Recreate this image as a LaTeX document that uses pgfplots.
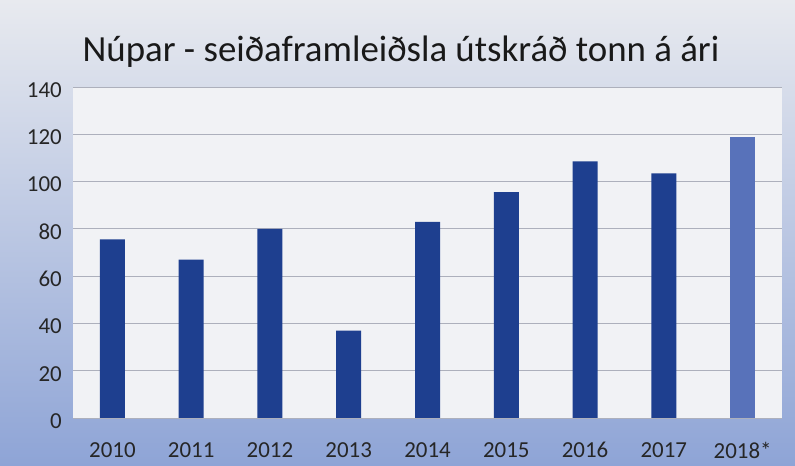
\documentclass[border=0pt]{standalone}
\usepackage{pgfplots}
\pgfplotsset{compat=1.18}
\usepackage{fontspec}
\setmainfont{Carlito}
\definecolor{barblue}{HTML}{1E3F8F}
\definecolor{barlight}{HTML}{5872BA}
\definecolor{bgtop}{HTML}{E8EAEF}
\definecolor{bgmid}{HTML}{A8B8E0}
\definecolor{bgbot}{HTML}{8EA4D6}
\definecolor{plotbg}{HTML}{F1F2F5}
\definecolor{gridc}{HTML}{ADB0BC}
\begin{document}
\begin{tikzpicture}
\useasboundingbox (0,0) rectangle (795bp,466bp);
\shade[top color=bgtop, middle color=bgmid, bottom color=bgbot] (0,0) rectangle (795bp,466bp);
\node[anchor=base, inner sep=0pt, font=\fontsize{37}{44}\selectfont, text=black!90] at (401bp,404bp) {Núpar - seiðaframleiðsla útskráð tonn á ári};
\begin{axis}[
  at={(73bp,48bp)}, anchor=south west,
  scale only axis, width=709bp, height=331bp,
  ymin=0, ymax=140, xmin=-0.5, xmax=8.5,
  ytick={0,20,...,140}, xtick={0,...,8},
  yticklabels={0,20,40,60,80,100,120,140},
  xticklabels={2010,2011,2012,2013,2014,2015,2016,2017,2018*},
  ymajorgrids, grid style={gridc, line width=0.8pt},
  axis line style={draw=none}, major tick length=0pt,
  axis background/.style={fill=plotbg},
  ybar, bar width=25bp,
  tick label style={font=\fontsize{23}{27}\selectfont, text=black!85},
  yticklabel style={anchor=east, inner sep=0pt, xshift=-11bp, yshift=-3bp},
  xticklabel style={anchor=north, inner sep=0pt, yshift=-24bp},
]
\addplot[fill=barblue, draw=none, bar shift=0pt] coordinates {(0,75.5) (1,67) (2,80) (3,37) (4,83) (5,95.5) (6,108.5) (7,103.5)};
\addplot[fill=barlight, draw=none, bar shift=0pt] coordinates {(8,119)};
\end{axis}
\end{tikzpicture}
\end{document}
